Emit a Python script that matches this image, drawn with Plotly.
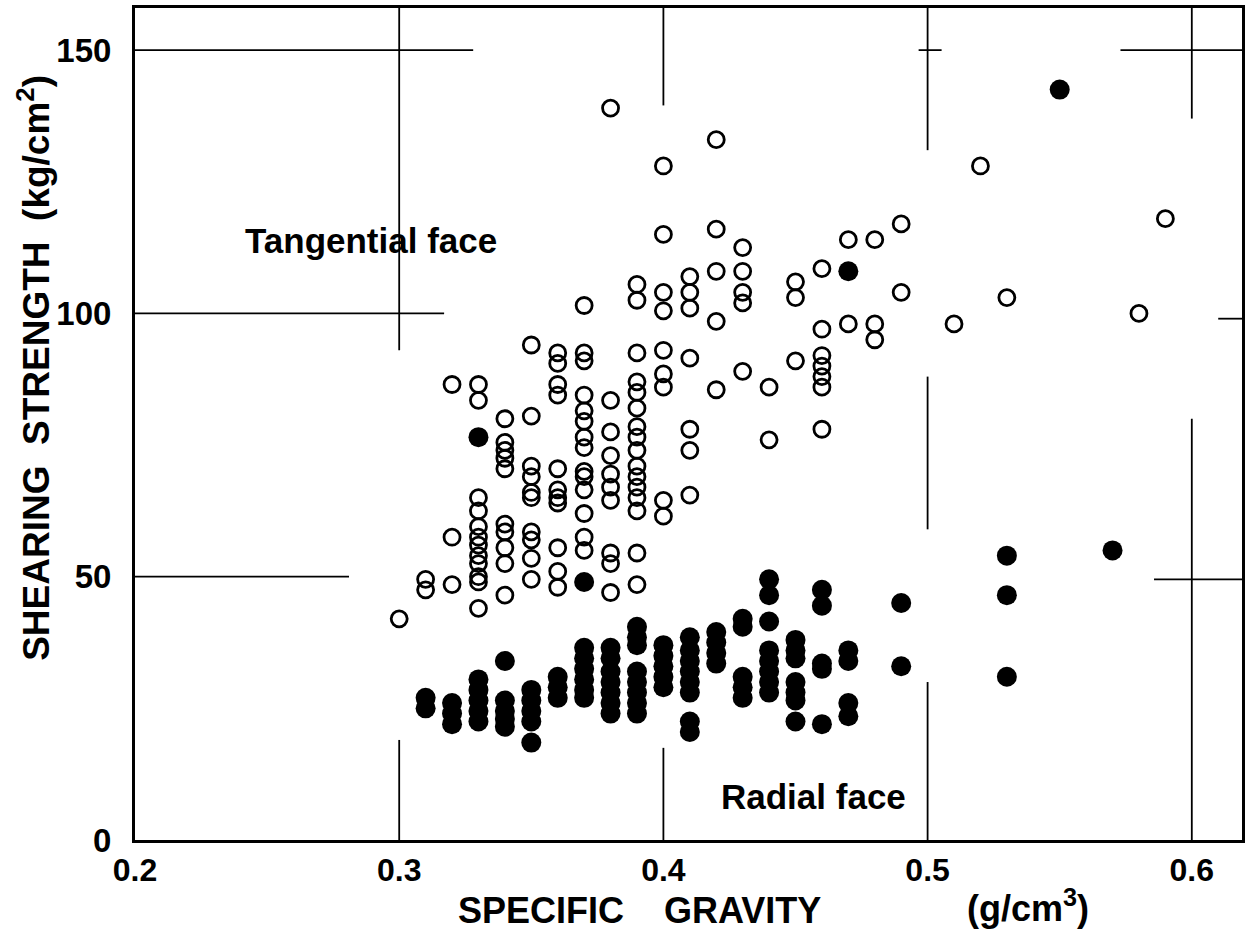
import plotly.graph_objects as go

# ---------------- data ----------------
# Tangential face (open circles): specific gravity columns and strengths
open_sg = [0.30, 0.31, 0.32, 0.33, 0.34, 0.35, 0.36, 0.37, 0.38, 0.39, 0.40,
           0.41, 0.42, 0.43, 0.44, 0.45, 0.46, 0.47, 0.48, 0.49, 0.51, 0.52,
           0.53, 0.58, 0.59]
open_strength = [
    [42],
    [49.5, 47.5],
    [86.5, 57.5, 48.5],
    [86.5, 83.5, 65, 62.5, 59.5, 57.5, 56, 54, 52.5, 50, 49, 44],
    [80, 75.5, 74, 72.5, 70.5, 60, 58.5, 55.5, 52.5, 46.5],
    [94, 80.5, 71, 69, 66, 65, 58.5, 57, 53.5, 49.5],
    [92.5, 90.5, 86.5, 84.5, 70.5, 66.5, 65, 64, 55.5, 51, 48],
    [101.5, 92.5, 91, 84.5, 81.5, 79.5, 76.5, 74.5, 70, 69, 66.5, 62, 57.5, 55],
    [139, 83.5, 77.5, 73, 69.5, 67, 64.5, 54.5, 52.5, 47],
    [105.5, 102.5, 92.5, 87, 85, 82, 78.5, 76.5, 74, 71, 69, 67, 65, 62.5, 54.5, 48.5],
    [128, 115, 104, 100.5, 93, 88.5, 86, 64.5, 61.5],
    [107, 104, 101, 91.5, 78, 74, 65.5],
    [133, 116, 108, 98.5, 85.5],
    [112.5, 108, 104, 102, 89],
    [86, 76],
    [106, 103, 91],
    [108.5, 97, 92, 90, 88, 86, 78],
    [114, 98],
    [114, 98, 95],
    [117, 104],
    [98],
    [128],
    [103],
    [100],
    [118],
]

# Radial face (filled circles)
filled_sg = [0.31, 0.32, 0.33, 0.34, 0.35, 0.36, 0.37, 0.38, 0.39, 0.40, 0.41,
             0.42, 0.43, 0.44, 0.45, 0.46, 0.47, 0.49, 0.53, 0.55, 0.57]
filled_strength = [
    [27, 25],
    [26, 24, 22],
    [76.5, 30.5, 28.5, 26.5, 24.5, 22.5],
    [34, 26.5, 24.5, 23, 21.5],
    [28.5, 26.5, 24.5, 22.5, 18.5],
    [31, 29, 27],
    [49, 36.5, 34.5, 32.5, 30.5, 28.5, 27],
    [36.5, 34.5, 32, 30, 28, 26, 24],
    [40.5, 38.5, 37, 32, 30, 28, 26, 24],
    [37, 35, 33, 31, 29],
    [38.5, 36, 34, 32, 30, 28, 22.5, 20.5],
    [39.5, 37.5, 35.5, 33.5],
    [42, 40.5, 31, 29, 27],
    [49.5, 46.5, 41.5, 36, 34, 32, 30, 28],
    [38, 36, 34.5, 30, 28, 26.5, 22.5],
    [47.5, 44.5, 33.5, 32.5, 22],
    [108, 36, 34, 26, 23.5],
    [45, 33],
    [54, 46.5, 31],
    [142.5],
    [55],
]

x_ticks = [0.2, 0.3, 0.4, 0.5, 0.6]
x_tick_labels = ["0.2", "0.3", "0.4", "0.5", "0.6"]
y_ticks = [0, 50, 100, 150]
y_tick_labels = ["0", "50", "100", "150"]

# hand-drawn partial grid fragments (x0, y0, x1, y1) in data units
grid_fragments = [
    (0.2, 150, 0.328, 150), (0.4966, 150, 0.5053, 150), (0.573, 150, 0.62, 150),
    (0.2, 100, 0.317, 100), (0.61, 99, 0.62, 99),
    (0.2, 50, 0.281, 50), (0.5857, 49.5, 0.62, 49.5),
    (0.3, 158, 0.3, 93), (0.3, 19, 0.3, 0),
    (0.4, 158, 0.4, 139.5), (0.4, 17.5, 0.4, 0),
    (0.5, 158, 0.5, 131), (0.5, 88, 0.5, 59), (0.5, 30, 0.5, 0),
    (0.6, 158, 0.6, 137), (0.6, 80, 0.6, 0),
]

# ---------------- build ----------------
def flatten(cols, vals):
    xs, ys = [], []
    for c, v in zip(cols, vals):
        for y in v:
            xs.append(c)
            ys.append(y)
    return xs, ys

ox, oy = flatten(open_sg, open_strength)
fx, fy = flatten(filled_sg, filled_strength)

FONT = "Liberation Sans, Arial, sans-serif"

fig = go.Figure()
fig.add_trace(go.Scatter(
    x=ox, y=oy, mode="markers", name="Tangential face",
    marker=dict(symbol="circle-open", size=16, color="black",
                line=dict(width=2.8, color="black")),
))
fig.add_trace(go.Scatter(
    x=fx, y=fy, mode="markers", name="Radial face",
    marker=dict(symbol="circle", size=20, color="black", line=dict(width=0)),
))

for (x0, y0, x1, y1) in grid_fragments:
    fig.add_shape(type="line", x0=x0, y0=y0, x1=x1, y1=y1, xref="x", yref="y",
                  line=dict(color="black", width=1.8), layer="below")

XMIN, XMAX = 0.2, 0.619
YMIN, YMAX = 0, 158

fig.update_layout(
    width=1250, height=936,
    margin=dict(l=135, r=5, t=7, b=96),
    paper_bgcolor="white", plot_bgcolor="white",
    showlegend=False,
    font=dict(family=FONT, color="black"),
    xaxis=dict(range=[XMIN, XMAX], tickvals=x_ticks, ticktext=x_tick_labels,
               showgrid=False, zeroline=False, showline=True, mirror=True,
               linecolor="black", linewidth=3, ticks="",
               tickfont=dict(size=32, family=FONT, weight="bold"), ticklabelstandoff=0),
    yaxis=dict(range=[YMIN, YMAX], tickvals=y_ticks, ticktext=y_tick_labels,
               showgrid=False, zeroline=False, showline=True, mirror=True,
               linecolor="black", linewidth=3, ticks="",
               tickfont=dict(size=33, family=FONT, weight="bold"), ticklabelstandoff=14),
)

def px_to_paper_x(px):
    return (px - 135) / 1110

def px_to_paper_y(py):
    return (840 - py) / 833

NB = "\u00a0"
annots = [
    dict(text="SHEARING" + NB * 2 + "STRENGTH" + NB * 2 + "(kg/cm<sup>2</sup>)",
         x=px_to_paper_x(34), y=px_to_paper_y(367), textangle=-90, size=37),
    dict(text="SPECIFIC" + NB * 4 + "GRAVITY",
         x=px_to_paper_x(641), y=px_to_paper_y(911), textangle=0, size=36),
    dict(text="(g/cm<sup>3</sup>)",
         x=px_to_paper_x(1030), y=px_to_paper_y(906), textangle=0, size=36),
    dict(text="Tangential" + NB + "face",
         x=px_to_paper_x(372), y=px_to_paper_y(240), textangle=0, size=35),
    dict(text="Radial" + NB + "face",
         x=px_to_paper_x(815), y=px_to_paper_y(796), textangle=0, size=35),
]
for a in annots:
    fig.add_annotation(text=a["text"], x=a["x"], y=a["y"], xref="paper", yref="paper",
                       showarrow=False, textangle=a["textangle"],
                       xanchor="center", yanchor="middle",
                       font=dict(size=a["size"], family=FONT, color="black", weight="bold"))

fig.write_html("out.html")
